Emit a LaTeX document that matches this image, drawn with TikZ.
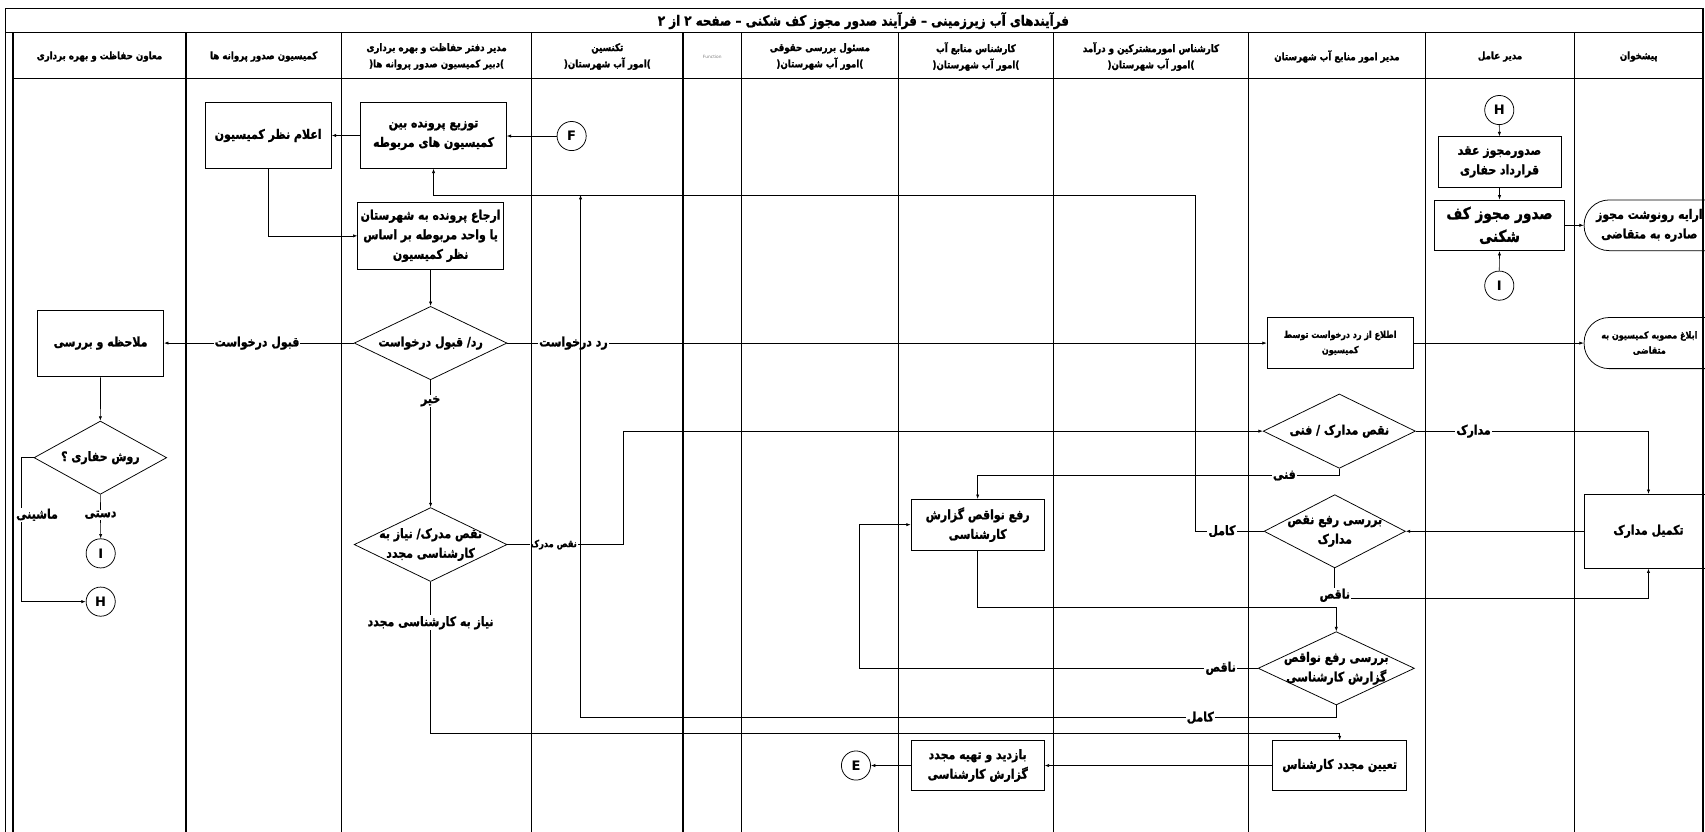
\documentclass[tikz,border=0pt]{standalone}
\usepackage{fontspec}
\usetikzlibrary{arrows.meta,shapes.geometric}
\TeXXeTstate=1
\newfontfamily\arabicfont[Script=Arabic,BoldFont={DejaVu Sans Bold}]{DejaVu Sans}
\newfontfamily\arabiccond[Script=Arabic,FakeStretch=0.84,BoldFont={DejaVu Sans Bold},BoldFeatures={FakeBold=1.3}]{DejaVu Sans}
\newcommand\fbody{\arabiccond\bfseries\fontsize{12}{18}\selectfont}
\newcommand\fhead{\arabiccond\bfseries\fontsize{9.5}{15}\selectfont}
\newcommand\fsmall{\arabiccond\bfseries\fontsize{8.8}{14}\selectfont}
\newcommand\ftiny{\arabiccond\bfseries\fontsize{9}{10}\selectfont}
\newcommand\fbig{\arabiccond\bfseries\fontsize{15}{21}\selectfont}
\newcommand\ftitle{\arabiccond\bfseries\fontsize{13}{15}\selectfont}
\newcommand\fcirc{\arabicfont\bfseries\fontsize{12}{13}\selectfont}
\begin{document}
\begin{tikzpicture}[x=1pt,y=-1pt,
  box/.style={draw,line width=0.7pt,fill=white,align=center,inner sep=1pt,font=\fbody},
  dia/.style={diamond,draw,line width=0.7pt,inner sep=0pt},
  dtext/.style={align=center,font=\fbody,inner sep=0pt},
  circ/.style={circle,draw,line width=0.7pt,minimum size=26.8pt,inner sep=0pt,font=\fcirc},
  term/.style={draw,line width=0.7pt,rounded corners=23pt,fill=white},
  conn/.style={line width=0.6pt,-{Latex[length=4pt,width=3pt]}},
  lbl/.style={fill=white,inner sep=1pt,font=\fbody},
  slbl/.style={fill=white,inner sep=1pt,font=\ftiny},
  head/.style={align=center,font=\fhead,inner sep=0pt},
  lane/.style={line width=1.2pt},
]
\useasboundingbox (0,0) rectangle (1568,765);
\fill[white] (0,0) rectangle (1568,765);

% boxes
\node[box,minimum width=134pt,minimum height=60.4pt] (tozi) at (398.7,124.6) {\beginR توزیع پرونده بین\endR\\\beginR کمیسیون های مربوطه\endR};
\node[box,minimum width=116.3pt,minimum height=60.4pt] (elam) at (246.6,124.6) {\beginR اعلام نظر کمیسیون\endR};
\node[box,minimum width=134pt,minimum height=61pt] (erja) at (396,216.9) {\beginR ارجاع پرونده به شهرستان\endR\\\beginR یا واحد مربوطه بر اساس\endR\\\beginR نظر کمیسیون\endR};
\node[box,minimum width=116pt,minimum height=61pt] (molahe) at (92.5,315.5) {\beginR ملاحظه و بررسی\endR};
\node[box,minimum width=122.6pt,minimum height=46.6pt] (rafa) at (899.1,482.5) {\beginR رفع نواقص گزارش\endR\\\beginR کارشناسی\endR};
\node[box,minimum width=122.6pt,minimum height=46.6pt] (bazdid) at (899.1,704) {\beginR بازدید و تهیه مجدد\endR\\\beginR گزارش کارشناسی\endR};
\node[box,minimum width=123pt,minimum height=46pt] (tayin) at (1232,704) {\beginR تعیین مجدد کارشناس\endR};
\node[box,minimum width=134.5pt,minimum height=47pt,font=\fsmall] (etela) at (1232.5,315.5) {\beginR اطلاع از رد درخواست توسط\endR\\\beginR کمیسیون\endR};
\node[box,minimum width=113pt,minimum height=46.6pt] (sodur1) at (1379,149) {\beginR صدورمجوز عقد\endR\\\beginR قرارداد حفاری\endR};
\node[box,minimum width=119pt,minimum height=46.6pt,font=\fbig] (sodur2) at (1379,207.2) {\beginR صدور مجوز کف\endR\\\beginR شکنی\endR};
\node[box,minimum width=118.6pt,minimum height=68pt] (takmil) at (1516,488.6) {\beginR تکمیل مدارک\endR};

% terminators
\node[term,minimum width=150pt,minimum height=46.6pt,label={[align=center,font=\fbody,xshift=-15pt]center:{\beginR ارایه رونوشت مجوز\endR\\\beginR صادره به متقاضی\endR}}] (term1) at (1531.8,207.2) {};
\node[term,minimum width=150pt,minimum height=47pt,label={[align=center,font=\fsmall,xshift=-15pt]center:{\beginR ابلاغ مصوبه کمیسیون به\endR\\\beginR متقاضی\endR}}] (term2) at (1531.8,315.5) {};

% diamonds
\node[dia,minimum width=140.5pt,minimum height=67.5pt,label={[dtext]center:{\beginR رد/ قبول درخواست\endR}}] (d1) at (396,315.5) {};
\node[dia,minimum width=140.5pt,minimum height=68pt,label={[dtext]center:{\beginR نقص مدرک/ نیاز به\endR\\\beginR کارشناسی مجدد\endR}}] (d2) at (396,500.8) {};
\node[dia,minimum width=140pt,minimum height=68.4pt,label={[dtext]center:{\beginR نقص مدارک / فنی\endR}}] (d3) at (1231.7,396.5) {};
\node[dia,minimum width=130pt,minimum height=67.4pt,label={[dtext]center:{\beginR بررسی رفع نقص\endR\\\beginR مدارک\endR}}] (d4) at (1227.5,488.6) {};
\node[dia,minimum width=143.7pt,minimum height=67.4pt,label={[dtext]center:{\beginR بررسی رفع نواقص\endR\\\beginR گزارش کارشناسی\endR}}] (d5) at (1228.9,614.6) {};
\node[dia,minimum width=122pt,minimum height=67.4pt,label={[dtext]center:{\beginR روش حفاری ؟\endR}}] (d6) at (92.3,420.9) {};

% off-page connectors
\node[circ] (F) at (525.7,125.1) {F};
\node[circ] (H1) at (1378.8,101.2) {H};
\node[circ] (I1) at (1378.8,262.7) {I};
\node[circ] (I2) at (92.6,508.9) {I};
\node[circ] (H2) at (92.6,553.3) {H};
\node[circ] (E) at (787.2,704) {E};

\coordinate (kx) at (1099.2,179.3);
\coordinate (kj) at (533.9,179.3);

% edges
\draw[conn] (F.west) -- (tozi.east |- F.west);
\draw[conn] (tozi.west) -- (elam.east |- tozi.west);
\draw[conn] (elam.south) |- (erja.west);
\draw[conn] (erja.south) -- (d1.north);
\draw[conn] (d1.west) -- node[lbl,pos=0.51]{\beginR قبول درخواست\endR} (molahe.east);
\draw[conn] (d1.east) -- node[lbl,pos=0.087]{\beginR رد درخواست\endR} (etela.west);
\draw[conn] (etela.east) -- (term2.west);
\draw[conn] (d1.south) -- node[lbl,pos=0.166]{\beginR خیر\endR} (d2.north);
\draw[conn] (d2.east) -- node[slbl,pos=0.4]{\beginR نقص مدرک\endR} ++(106.7,0) |- (d3.west);
\draw[conn] (d2.south) -- node[lbl,pos=0.27]{\beginR نیاز به کارشناسی مجدد\endR} ++(0,139.2) -| (tayin.north);
\draw[conn] (d3.east) -| node[lbl,pos=0.124]{\beginR مدارک\endR} (takmil.north);
\draw[conn] (d3.south) -- ++(0,6.3) -| node[lbl,pos=0.076]{\beginR فنی\endR} (rafa.north);
\draw[conn] (takmil.west) -- (d4.east);
\draw[conn] (d4.west) -- node[lbl,pos=0.61]{\beginR کامل\endR} (kx |- d4.west) -- (kx) -| (tozi.south);
\draw[conn] (d4.south) -- ++(0,27.8) node[lbl,yshift=3pt]{\beginR ناقص\endR} -| (takmil.south);
\draw[conn] (rafa.south) -- ++(0,52.1) -| (d5.north);
\draw[conn] (d5.west) -- node[lbl,pos=0.093]{\beginR ناقص\endR} ++(-366.6,0) |- (rafa.west);
\draw[conn] (d5.south) -- ++(0,11.4) -| node[lbl,pos=0.09]{\beginR کامل\endR} (kj);
\draw[conn] (tayin.west) -- (bazdid.east);
\draw[conn] (bazdid.west) -- (E.east);
\draw[conn] (molahe.south) -- (d6.north);
\draw[conn] (d6.south) -- node[lbl,pos=0.46]{\beginR دستی\endR} (I2.north);
\draw[conn] (d6.west) -- ++(-10.9,0) |- node[lbl,pos=0.198,xshift=14pt]{\beginR ماشینی\endR} (H2.west);
\draw[conn] (H1.south) -- (sodur1.north);
\draw[conn] (sodur1.south) -- (sodur2.north);
\draw[conn] (I1.north) -- (sodur2.south);
\draw[conn] (sodur2.east) -- (term1.west);

% frame and lanes
\draw[lane] (5,770) -- (5,8) -- (1566,8) -- (1566,770);
\draw[lane] (5,30) -- (1566,30);
\draw[lane] (12,72) -- (1566,72);
\foreach \x in {12,171,314,489,628,682,826,969,1148,1311,1448} \draw[lane] (\x,30) -- (\x,770);

% title and headers
\node[font=\ftitle] (title) at (794,19) {\beginR فرآیندهای آب زیرزمینی – فرآیند صدور مجوز کف شکنی – صفحه ۲ از ۲\endR};
\node[head] (h1) at (91.5,52) {\beginR معاون حفاظت و بهره برداری\endR};
\node[head] (h2) at (242.5,52) {\beginR کمیسیون صدور پروانه ها\endR};
\node[head] (h3) at (401.5,52) {\beginR مدیر دفتر حفاظت و بهره برداری\endR\\(\beginR دبیر کمیسیون صدور پروانه ها\endR)};
\node[head] (h4) at (558.5,52) {\beginR تکنسین\endR\\(\beginR امور آب شهرستان\endR)};
\node[font=\arabicfont\fontsize{4}{5}\selectfont,text=gray] (h5) at (655,52) {Function};
\node[head] (h6) at (754,52) {\beginR مسئول بررسی حقوقی\endR\\(\beginR امور آب شهرستان\endR)};
\node[head] (h7) at (897.5,52) {\beginR کارشناس منابع آب\endR\\(\beginR امور آب شهرستان\endR)};
\node[head] (h8) at (1058.5,52) {\beginR کارشناس امورمشترکین و درآمد\endR\\(\beginR امور آب شهرستان\endR)};
\node[head] (h9) at (1229.5,52) {\beginR مدیر امور منابع آب شهرستان\endR};
\node[head] (h10) at (1379.5,52) {\beginR مدیر عامل\endR};
\node[head] (h11) at (1507,52) {\beginR پیشخوان\endR};
\end{tikzpicture}
\end{document}
